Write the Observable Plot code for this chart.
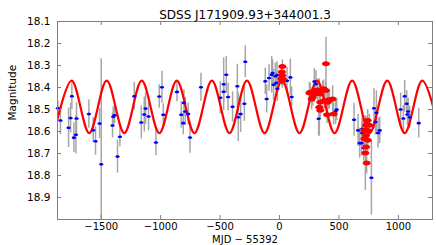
<!DOCTYPE html>
<html><head><meta charset="utf-8">
<script src="https://cdn.jsdelivr.net/npm/d3@7"></script>
<script src="https://cdn.jsdelivr.net/npm/@observablehq/plot@0.6"></script>
<style>body{margin:0;background:#fff;}</style>
</head><body><div id="chart"></div>
<script>
const title = "SDSS J171909.93+344001.3";
const xLabel = "MJD \u2212 55392";
const yLabel = "Magnitude";
const xTicks = [-1500, -1000, -500, 0, 500, 1000];
const yTicks = [18.1, 18.2, 18.3, 18.4, 18.5, 18.6, 18.7, 18.8, 18.9];

// blue points (MJD-55392, magnitude, error)
const blueT = [-1865,-1843,-1775,-1758,-1747,-1730,-1713,-1708,-1604,-1567,-1548,-1514,-1500,-1405,-1399,-1388,-1363,-1343,-1222,-1163,-1138,-1127,-1102,-1040,-1012,-989,-978,-863,-827,-810,-804,-793,-768,-753,-661,-498,-470,-470,-448,-433,-395,-355,-347,-327,-296,-288,-120,-108,-88,-66,-58,-50,-35,-27,-21,-18,63,91,102,293,307,329,472,481,627,661,674,689,694,697,708,773,795,807,815,829,843,1019,1042,1053,1070,1076,1082,1095,1171];
const blueM = [18.494,18.550,18.583,18.539,18.440,18.628,18.615,18.541,18.521,18.594,18.644,18.564,18.749,18.573,18.533,18.526,18.714,18.624,18.440,18.559,18.523,18.496,18.532,18.650,18.441,18.399,18.524,18.420,18.524,18.562,18.470,18.509,18.521,18.627,18.399,18.447,18.385,18.419,18.342,18.443,18.488,18.394,18.535,18.521,18.474,18.283,18.372,18.452,18.357,18.342,18.334,18.388,18.349,18.379,18.343,18.406,18.369,18.354,18.443,18.373,18.384,18.542,18.508,18.500,18.547,18.595,18.653,18.653,18.607,18.588,18.675,18.810,18.494,18.557,18.515,18.607,18.595,18.500,18.541,18.440,18.474,18.523,18.509,18.535,18.562];
const blueE = [0.03,0.064,0.09,0.068,0.06,0.068,0.087,0.072,0.064,0.057,0.064,0.068,0.48,0.057,0.045,0.04,0.075,0.045,0.064,0.075,0.08,0.072,0.064,0.06,0.053,0.073,0.05,0.045,0.06,0.053,0.06,0.064,0.05,0.072,0.064,0.072,0.12,0.05,0.083,0.064,0.068,0.10,0.11,0.083,0.08,0.072,0.06,0.064,0.06,0.083,0.06,0.07,0.06,0.05,0.06,0.057,0.06,0.083,0.045,0.06,0.06,0.08,0.06,0.05,0.075,0.072,0.068,0.06,0.06,0.06,0.06,0.17,0.09,0.06,0.10,0.068,0.06,0.075,0.06,0.072,0.06,0.05,0.06,0.05,0.068];

// red points
const redT = [24,20,22,16,28,22,391,251,259,270,279,293,301,321,343,363,371,391,377,343,405,413,419,447,335,343,400,455,742,756,728,742,714,728,742,714,728,722,733];
const redM = [18.305,18.330,18.345,18.360,18.363,18.372,18.292,18.425,18.422,18.452,18.444,18.429,18.414,18.411,18.429,18.411,18.406,18.414,18.459,18.467,18.467,18.459,18.456,18.452,18.490,18.503,18.524,18.520,18.550,18.572,18.572,18.595,18.595,18.618,18.640,18.633,18.671,18.698,18.743];
const redE = [0.03,0.03,0.03,0.03,0.03,0.03,0.12,0.05,0.04,0.05,0.04,0.04,0.04,0.05,0.04,0.04,0.04,0.04,0.04,0.05,0.06,0.04,0.04,0.06,0.13,0.04,0.04,0.05,0.05,0.05,0.04,0.05,0.04,0.05,0.05,0.04,0.05,0.17,0.05];

// sinusoidal model: extremes (alternating trough / peak)
const modelT = [-1896,-1749,-1601,-1454,-1306,-1159,-1011,-864,-716,-569,-421,-274,-126,21,168,316,463,611,758,906,1053,1201,1348];
const modelM = [18.607,18.369,18.607,18.369,18.607,18.369,18.607,18.369,18.607,18.369,18.607,18.369,18.607,18.369,18.607,18.369,18.607,18.369,18.607,18.369,18.607,18.369,18.607];

const blue = blueT.map((t, i) => ({t, m: blueM[i], e: blueE[i]}));
const red = redT.map((t, i) => ({t, m: redM[i], e: redE[i]}));
const model = modelT.map((t, i) => ({t, m: modelM[i]}));

function ellipseSymbol(ratio) {
  return {draw(ctx, size) {
    const r = Math.sqrt(size / Math.PI), rx = r * ratio, ry = r, k = 0.5523;
    ctx.moveTo(rx, 0);
    ctx.bezierCurveTo(rx, ry * k, rx * k, ry, 0, ry);
    ctx.bezierCurveTo(-rx * k, ry, -rx, ry * k, -rx, 0);
    ctx.bezierCurveTo(-rx, -ry * k, -rx * k, -ry, 0, -ry);
    ctx.bezierCurveTo(rx * k, -ry, rx, -ry * k, rx, 0);
    ctx.closePath();
  }};
}

const W = 436, H = 245, mL = 57, mR = 4, mT = 21, mB = 26;
const pw = W - mL - mR, ph = H - mT - mB;
const axisColor = "#808080";

const chart = Plot.plot({
  width: W, height: H,
  marginLeft: mL, marginRight: mR, marginTop: mT, marginBottom: mB,
  style: {fontFamily: "DejaVu Sans, sans-serif", fontSize: "10px", color: "#000", background: "#fff"},
  x: {domain: [-1868, 1287]},
  y: {domain: [18.1, 19.0], reverse: true},
  marks: [
    Plot.ruleX(blue, {x: "t", y1: d => d.m - d.e, y2: d => d.m + d.e, stroke: "#a6a6a6", strokeWidth: 1.5, clip: true}),
    Plot.ruleX(red, {x: "t", y1: d => d.m - d.e, y2: d => d.m + d.e, stroke: "#a6a6a6", strokeWidth: 1.5, clip: true}),
    Plot.line(model, {x: "t", y: "m", curve: "cardinal", stroke: "#ff0000", strokeWidth: 2.2, clip: true}),
    Plot.dot(blue, {x: "t", y: "m", r: 1.3, symbol: ellipseSymbol(1.7), fill: "#0000ff", stroke: "none"}),
    Plot.dot(red, {x: "t", y: "m", r: 2.5, symbol: ellipseSymbol(1.6), fill: "#ff0000", stroke: "none"}),
    Plot.frame({stroke: axisColor}),
    Plot.tickY(yTicks, {y: d => d, insetRight: pw - 4, stroke: axisColor}),
    Plot.tickY(yTicks, {y: d => d, insetLeft: pw - 4, stroke: axisColor}),
    Plot.tickX(xTicks, {x: d => d, insetTop: ph - 4, stroke: axisColor}),
    Plot.tickX(xTicks, {x: d => d, insetBottom: ph - 4, stroke: axisColor}),
    Plot.axisX({ticks: xTicks, tickSize: 0, tickPadding: 3, label: null, fontSize: 10,
      tickFormat: d => d < 0 ? "\u2212" + (-d) : String(d)}),
    Plot.axisY({ticks: yTicks, tickSize: 0, tickPadding: 7, label: null, fontSize: 10.5, tickFormat: d => d.toFixed(1)}),
    Plot.text([xLabel], {frameAnchor: "bottom", dy: 23, fontSize: 10, fill: "#000"}),
    Plot.text([yLabel], {frameAnchor: "left", dx: -45, rotate: -90, fontSize: 10.5, fill: "#000"}),
    Plot.text([title], {frameAnchor: "top", dy: -11, fontSize: 12, fill: "#000"})
  ]
});
document.getElementById("chart").appendChild(chart);
</script>
</body></html>
